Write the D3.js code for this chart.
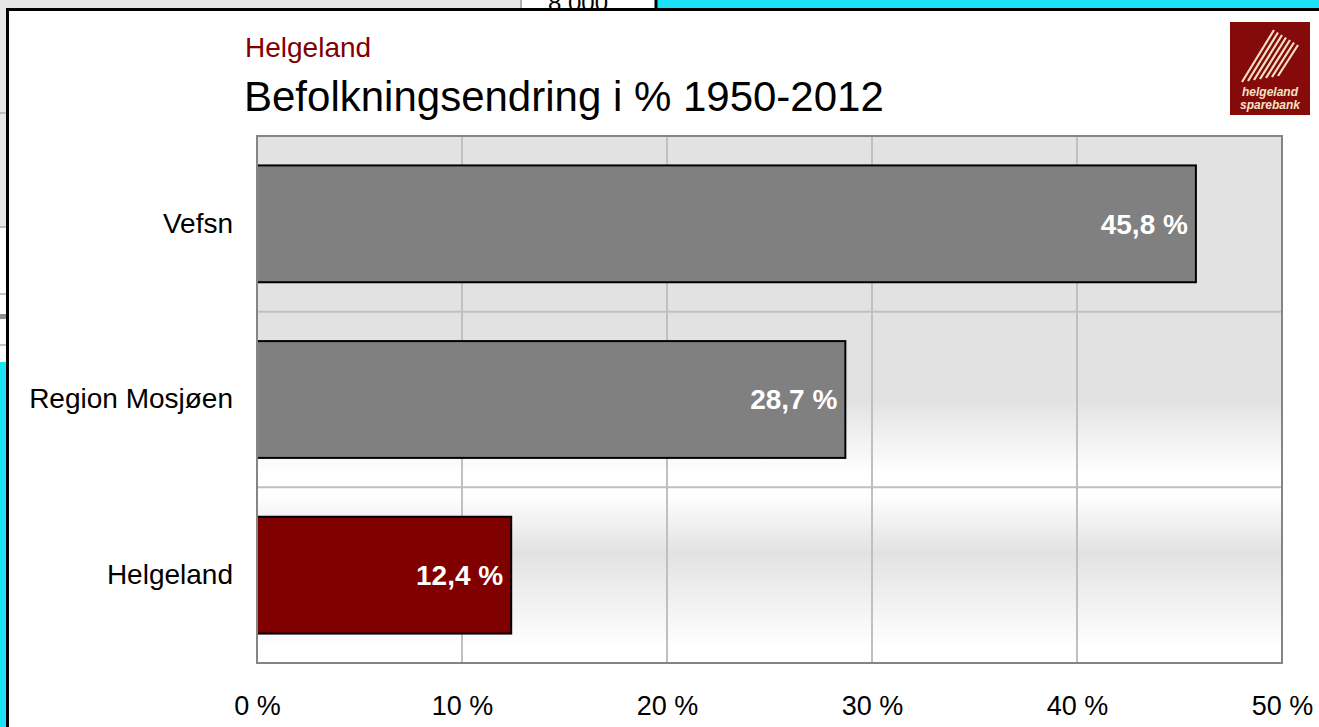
<!DOCTYPE html>
<html>
<head>
<meta charset="utf-8">
<script src="https://cdn.jsdelivr.net/npm/d3@7"></script>
<style>
  body { margin: 0; background: #fff; }
  svg { display: block; font-family: "Liberation Sans", Arial, sans-serif; }
</style>
</head>
<body>
<div id="chart"></div>
<script>
// data
const categories = ["Vefsn", "Region Mosjøen", "Helgeland"];
const values = [45.8, 28.7, 12.4];
const barColors = ["#808080", "#808080", "#800000"];
const xTicks = [0, 10, 20, 30, 40, 50];
const subTitle = "Helgeland";
const title = "Befolkningsendring i % 1950-2012";

const W = 1319, H = 727;
const plot = { left: 257, right: 1282, top: 136, bottom: 663 };

const svg = d3.select("#chart").append("svg")
  .attr("width", W)
  .attr("height", H);

// spreadsheet bits showing behind the chart
svg.append("rect").attr("x", 0).attr("y", 0).attr("width", 522).attr("height", 10).attr("fill", "#e4e4e4");
svg.append("rect").attr("x", 522).attr("y", 0).attr("width", 134).attr("height", 10).attr("fill", "#fff");
svg.append("line").attr("x1", 521).attr("x2", 521).attr("y1", 0).attr("y2", 10).attr("stroke", "#a0a0a0").attr("stroke-width", 1.5);
svg.append("text").attr("x", 578).attr("y", 11).attr("text-anchor", "middle")
  .style("font-size", "24px").attr("fill", "#000").text("8 000");
svg.append("rect").attr("x", 656).attr("y", 0).attr("width", W - 656).attr("height", 10).attr("fill", "#1ae3f7");
svg.append("line").attr("x1", 656).attr("x2", 656).attr("y1", 0).attr("y2", 10).attr("stroke", "#000").attr("stroke-width", 3);
svg.append("rect").attr("x", 0).attr("y", 0).attr("width", 8).attr("height", 362).attr("fill", "#e6e6e6");
svg.append("rect").attr("x", 0).attr("y", 228).attr("width", 8).attr("height", 134).attr("fill", "#fff");
[113, 227, 294, 345].forEach(y => {
  svg.append("line").attr("x1", 0).attr("x2", 8).attr("y1", y).attr("y2", y).attr("stroke", "#b0b0b0").attr("stroke-width", 1.5);
});
svg.append("rect").attr("x", 0).attr("y", 314).attr("width", 8).attr("height", 5).attr("fill", "#909090");
svg.append("rect").attr("x", 0).attr("y", 362).attr("width", 8).attr("height", H - 362).attr("fill", "#1ae3f7");

// chart frame
svg.append("rect").attr("x", 7.5).attr("y", 9.5).attr("width", W).attr("height", H)
  .attr("fill", "#fff").attr("stroke", "#000").attr("stroke-width", 3);

// titles
svg.append("text").attr("x", 245).attr("y", 57)
  .style("font-size", "28px").attr("fill", "#800000").text(subTitle);
svg.append("text").attr("x", 244).attr("y", 111)
  .style("font-size", "42px").attr("fill", "#000").text(title);

// logo
const logo = svg.append("g").attr("transform", "translate(1230,22)");
logo.append("rect").attr("width", 80).attr("height", 93).attr("fill", "#850a0a");
for (let i = 0; i < 7; i++) {
  logo.append("line")
    .attr("x1", 12 + i * 6).attr("y1", 60 - i * 1)
    .attr("x2", 44 + i * 4).attr("y2", 8 + i * 2.5)
    .attr("stroke", "#f3e3c6").attr("stroke-width", 2.2);
}
logo.append("text").attr("x", 40).attr("y", 74).attr("text-anchor", "middle")
  .style("font-size", "12px").style("font-style", "italic").style("font-weight", "bold")
  .attr("fill", "#f3e3c6").text("helgeland");
logo.append("text").attr("x", 40).attr("y", 87).attr("text-anchor", "middle")
  .style("font-size", "12px").style("font-style", "italic").style("font-weight", "bold")
  .attr("fill", "#f3e3c6").text("sparebank");

// scales
const x = d3.scaleLinear().domain([0, 50]).range([plot.left, plot.right]);
const y = d3.scaleBand().domain(categories).range([plot.top, plot.bottom])
  .paddingInner(0.335).paddingOuter(0.1675);

// plot background gradient
const defs = svg.append("defs");
const grad = defs.append("linearGradient").attr("id", "bg").attr("x1", 0).attr("x2", 0).attr("y1", 0).attr("y2", 1);
[[0, "#e2e2e2"], [0.5, "#e2e2e2"], [0.64, "#ffffff"], [0.68, "#ffffff"], [0.79, "#e2e2e2"], [0.97, "#ffffff"], [1, "#ffffff"]]
  .forEach(s => grad.append("stop").attr("offset", s[0]).attr("stop-color", s[1]));
svg.append("rect").attr("x", plot.left).attr("y", plot.top)
  .attr("width", plot.right - plot.left).attr("height", plot.bottom - plot.top)
  .attr("fill", "url(#bg)");

// grid lines
svg.append("g").selectAll("line").data(xTicks.slice(1, -1)).enter().append("line")
  .attr("x1", d => x(d)).attr("x2", d => x(d))
  .attr("y1", plot.top).attr("y2", plot.bottom)
  .attr("stroke", "#c0c0c0").attr("stroke-width", 2);
const step = y.step();
svg.append("g").selectAll("line").data(d3.range(1, categories.length)).enter().append("line")
  .attr("x1", plot.left).attr("x2", plot.right)
  .attr("y1", d => plot.top + d * step).attr("y2", d => plot.top + d * step)
  .attr("stroke", "#c0c0c0").attr("stroke-width", 2);

// bars
svg.append("g").selectAll("rect").data(values).enter().append("rect")
  .attr("x", x(0))
  .attr("y", (d, i) => y(categories[i]))
  .attr("width", d => x(d) - x(0))
  .attr("height", y.bandwidth())
  .attr("fill", (d, i) => barColors[i])
  .attr("stroke", "#000").attr("stroke-width", 2);

// value labels
svg.append("g").selectAll("text").data(values).enter().append("text")
  .attr("x", d => x(d) - 8)
  .attr("y", (d, i) => y(categories[i]) + y.bandwidth() / 2)
  .attr("dy", "0.35em")
  .attr("text-anchor", "end")
  .style("font-size", "28px").style("font-weight", "bold")
  .attr("fill", "#fff")
  .text(d => d.toFixed(1).replace(".", ",") + " %");

// plot border
svg.append("rect").attr("x", plot.left).attr("y", plot.top)
  .attr("width", plot.right - plot.left).attr("height", plot.bottom - plot.top)
  .attr("fill", "none").attr("stroke", "#858585").attr("stroke-width", 2);

// axes
const xAxis = d3.axisBottom(x).tickValues(xTicks).tickSize(0).tickPadding(0)
  .tickFormat(d => d + " %");
svg.append("g")
  .attr("id", "x-axis")
  .attr("transform", "translate(0," + (plot.bottom + 33) + ")")
  .call(xAxis)
  .call(g => g.select(".domain").remove())
  .selectAll("text")
  .style("font-size", "27px").style("font-family", "Liberation Sans, Arial, sans-serif")
  .attr("fill", "#000");

const yAxis = d3.axisLeft(y).tickSize(0).tickPadding(24);
svg.append("g")
  .attr("id", "y-axis")
  .attr("transform", "translate(" + plot.left + ",0)")
  .call(yAxis)
  .call(g => g.select(".domain").remove())
  .selectAll("text")
  .style("font-size", "28px").style("font-family", "Liberation Sans, Arial, sans-serif")
  .attr("fill", "#000");
</script>
</body>
</html>
